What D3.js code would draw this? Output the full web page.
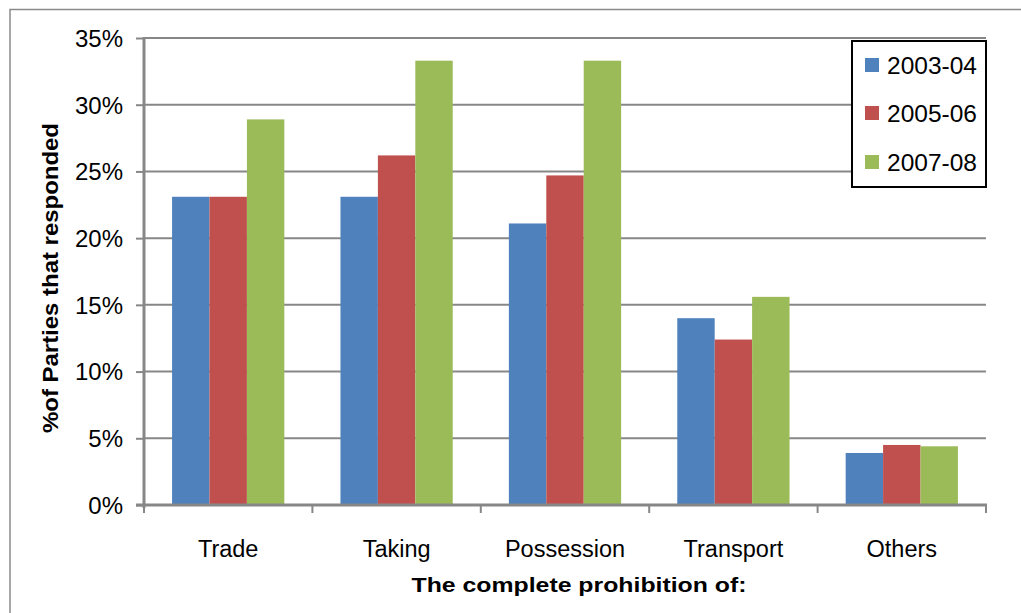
<!DOCTYPE html>
<html><head><meta charset="utf-8">
<script src="https://cdn.jsdelivr.net/npm/d3@7"></script>
<style>body{margin:0;background:#fff;}svg{display:block;font-family:Arial,"Liberation Sans",sans-serif;}</style>
</head><body>
<svg id="c" width="1021" height="613"></svg>
<script>
const categories = ["Trade","Taking","Possession","Transport","Others"];
const seriesNames = ["2003-04","2005-06","2007-08"];
const s2003 = [23.1, 23.1, 21.1, 14.0, 3.9];
const s2005 = [23.1, 26.2, 24.7, 12.4, 4.5];
const s2007 = [28.9, 33.3, 33.3, 15.6, 4.4];
const yTicks = [0,5,10,15,20,25,30,35];
const colors = ["#4F81BD","#C0504D","#9BBB59"];
const seriesValues = [s2003, s2005, s2007];

const svg = d3.select("#c");
const L=144, R=986, T=38, B=505;
const x = d3.scaleBand().domain(categories).range([L,R]).paddingInner(0).paddingOuter(0);
const bw = x.bandwidth()/4.5;
const xs = d3.scaleBand().domain(seriesNames).range([bw*0.75, bw*0.75+bw*3]);
const y = d3.scaleLinear().domain([0,35]).range([B,T]);

// outer border (top & left visible)
svg.append("path").attr("d","M10,1000 L10,9.5 L1100,9.5").attr("fill","none").attr("stroke","#8a8a8a").attr("stroke-width",1.5);

// gridlines
svg.append("g").selectAll("line").data(yTicks.filter(d=>d>0)).join("line")
  .attr("x1",L).attr("x2",R).attr("y1",d=>y(d)).attr("y2",d=>y(d))
  .attr("stroke","#878787").attr("stroke-width",2);

// bars
const g = svg.append("g");
seriesNames.forEach((s,si)=>{
  g.selectAll(null).data(categories).join("rect")
    .attr("x",c=>x(c)+xs(s)).attr("width",xs.bandwidth())
    .attr("y",(c,i)=>y(seriesValues[si][i])).attr("height",(c,i)=>B-y(seriesValues[si][i]))
    .attr("fill",colors[si]);
});

// y axis
const yAxis = d3.axisLeft(y).tickValues(yTicks).tickFormat(d=>d+"%").tickSize(8).tickPadding(13);
const ya = svg.append("g").attr("transform",`translate(${L},0)`).call(yAxis);
ya.select(".domain").attr("stroke","#878787").attr("stroke-width",3).attr("d",`M0,${T-1}V${B+3}`);
ya.selectAll(".tick line").attr("stroke","#878787").attr("stroke-width",2);
ya.selectAll(".tick text").attr("font-size",24).attr("fill","#000").attr("font-family","Arial,'Liberation Sans',sans-serif").attr("dy","0.35em");

// x axis
const xa = svg.append("g").attr("transform",`translate(0,${B})`);
xa.append("line").attr("x1",L-8).attr("x2",R+1).attr("y1",0).attr("y2",0).attr("stroke","#878787").attr("stroke-width",3);
const tickXs = categories.map(c=>x(c)).concat([R]);
xa.selectAll("line.t").data(tickXs).join("line").attr("class","t")
  .attr("x1",d=>d).attr("x2",d=>d).attr("y1",0).attr("y2",8).attr("stroke","#878787").attr("stroke-width",2);
xa.selectAll("text").data(categories).join("text")
  .attr("x",c=>x(c)+x.bandwidth()/2).attr("y",52).attr("text-anchor","middle")
  .attr("font-size",23.5).attr("fill","#000").text(c=>c);

// axis titles
svg.append("text").attr("x",579).attr("y",592).attr("text-anchor","middle")
  .attr("font-size",21).attr("font-weight","bold").attr("textLength",335).attr("lengthAdjust","spacingAndGlyphs")
  .text("The complete prohibition of:");
svg.append("text").attr("transform","translate(58,278) rotate(-90)").attr("text-anchor","middle")
  .attr("font-size",22.5).attr("font-weight","bold").attr("textLength",310).attr("lengthAdjust","spacingAndGlyphs")
  .text("%of Parties that responded");

// legend
const lg = svg.append("g");
lg.append("rect").attr("x",852).attr("y",41).attr("width",134).attr("height",146)
  .attr("fill","#fff").attr("stroke","#000").attr("stroke-width",2);
const rows=[65,113,162];
seriesNames.forEach((s,i)=>{
  lg.append("rect").attr("x",865).attr("y",rows[i]-7).attr("width",14).attr("height",14).attr("fill",colors[i]);
  lg.append("text").attr("x",887).attr("y",rows[i]).attr("dy","0.35em").attr("font-size",24.5).attr("fill","#000").text(s);
});
</script>
</body></html>
